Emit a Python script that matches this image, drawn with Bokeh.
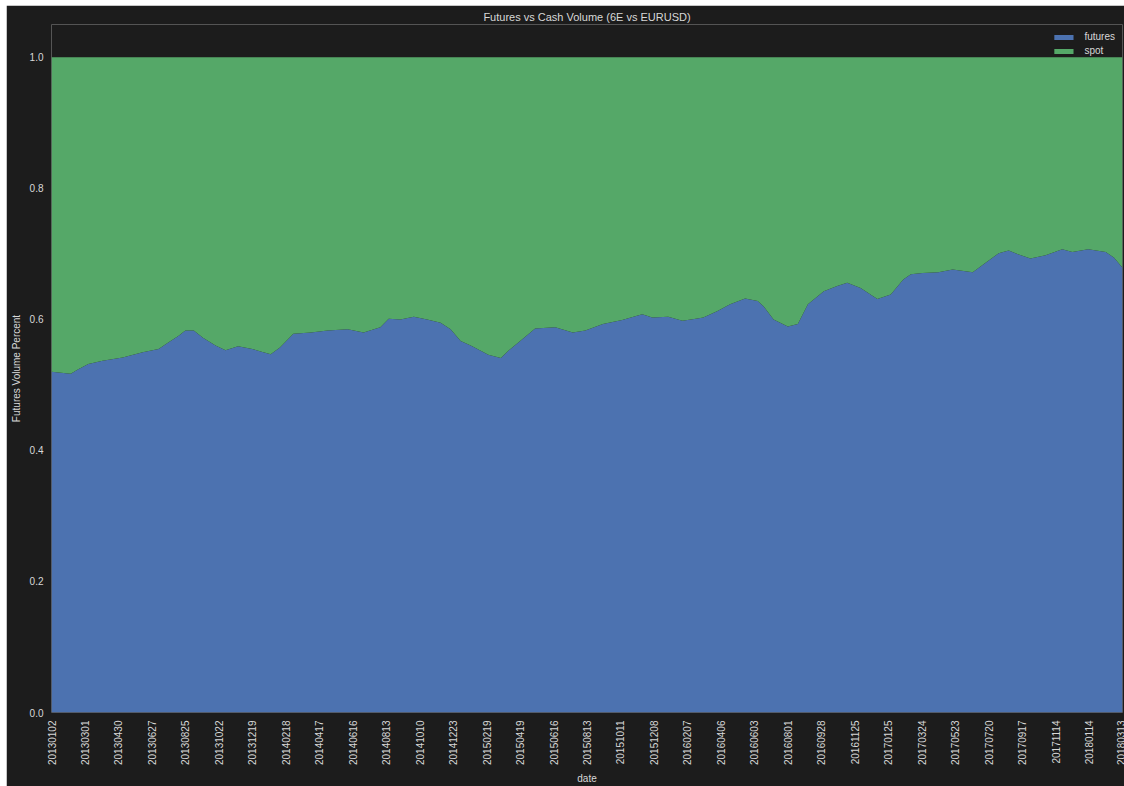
import math
from bokeh.plotting import figure
from bokeh.models import (ColumnDataSource, Range1d, FixedTicker, PrintfTickFormatter,
                          Legend, LegendItem, Spacer)
from bokeh.layouts import column, row
from bokeh.embed import file_html
from bokeh.resources import INLINE

# ---- data (row index of the daily series, futures share of volume) ----
row_index = [0, 23, 32, 44, 61, 85, 109, 128, 140, 152, 160, 170, 181, 196, 208, 223,
             240, 250, 262, 273, 289, 310, 330, 354, 373, 393, 403, 417, 433, 449, 465,
             477, 489, 501, 513, 522, 537, 546, 563, 578, 602, 623, 638, 659, 682, 706,
             718, 737, 754, 770, 779, 796, 811, 829, 844, 851, 863, 880, 892, 904, 923,
             939, 951, 967, 987, 1003, 1018, 1027, 1041, 1060, 1077, 1101, 1116, 1132,
             1144, 1156, 1170, 1188, 1208, 1220, 1239, 1260, 1270, 1280]
futures = [0.520, 0.517, 0.524, 0.532, 0.537, 0.542, 0.550, 0.555, 0.565, 0.575, 0.583,
           0.583, 0.572, 0.560, 0.553, 0.559, 0.555, 0.551, 0.547, 0.557, 0.578, 0.580,
           0.583, 0.585, 0.580, 0.588, 0.601, 0.600, 0.604, 0.600, 0.595, 0.585, 0.567,
           0.560, 0.552, 0.546, 0.541, 0.552, 0.570, 0.586, 0.588, 0.580, 0.583, 0.593,
           0.599, 0.608, 0.603, 0.604, 0.598, 0.601, 0.603, 0.613, 0.623, 0.632, 0.628,
           0.620, 0.600, 0.589, 0.593, 0.623, 0.643, 0.651, 0.656, 0.648, 0.631, 0.638,
           0.661, 0.669, 0.671, 0.672, 0.676, 0.672, 0.686, 0.701, 0.705, 0.699, 0.693,
           0.698, 0.707, 0.703, 0.707, 0.703, 0.694, 0.679]
spot = [round(1.0 - f, 3) for f in futures]

tick_labels = ["20130102", "20130301", "20130430", "20130627", "20130825", "20131022",
               "20131219", "20140218", "20140417", "20140616", "20140813", "20141010",
               "20141223", "20150219", "20150419", "20150616", "20150813", "20151011",
               "20151208", "20160207", "20160406", "20160603", "20160801", "20160928",
               "20161125", "20170125", "20170324", "20170523", "20170720", "20170917",
               "20171114", "20180114", "20180313"]
rows_per_tick = 40
series_names = ["futures", "spot"]
series_colors = ["#4c72b0", "#55a868"]

BG = "#1c1c1c"
TXT = "#d8d8d8"
FONT = "Liberation Sans"

# layout (pixels)
W, H = 1118, 781
B_LEFT, B_TOP, B_RIGHT, B_BOTTOM = 45, 19, 2, 71
LEGEND_BAND = 33          # room above the 1.0 line that holds the legend
frame_h = H - B_TOP - B_BOTTOM
y_top = frame_h / (frame_h - LEGEND_BAND)

source = ColumnDataSource(dict(x=row_index, futures=futures, spot=spot))

p = figure(width=W, height=H, output_backend="svg", toolbar_location=None,
           x_range=Range1d(0, rows_per_tick * (len(tick_labels) - 1)),
           y_range=Range1d(0, y_top),
           title="Futures vs Cash Volume (6E vs EURUSD)",
           min_border_left=B_LEFT, min_border_top=B_TOP,
           min_border_right=B_RIGHT, min_border_bottom=B_BOTTOM)

rends = p.varea_stack(stackers=series_names, x="x", source=source, color=series_colors)

p.background_fill_color = BG
p.border_fill_color = BG
p.outline_line_color = None
p.grid.visible = False

p.title.align = "center"
p.title.text_color = TXT
p.title.text_font = FONT
p.title.text_font_size = "11px"
p.title.text_font_style = "normal"
p.title.offset = 0
p.title.standoff = 3

tick_pos = [i * rows_per_tick for i in range(len(tick_labels))]
p.xaxis.ticker = FixedTicker(ticks=tick_pos)
p.xaxis.major_label_overrides = {t: lab for t, lab in zip(tick_pos, tick_labels)}
p.xaxis.major_label_orientation = math.pi / 2
p.xaxis.axis_label = "date"

p.yaxis.ticker = FixedTicker(ticks=[0.0, 0.2, 0.4, 0.6, 0.8, 1.0])
p.yaxis.formatter = PrintfTickFormatter(format="%.1f")
p.yaxis.axis_label = "Futures Volume Percent"

for ax in p.axis:
    ax.axis_line_color = None
    ax.major_tick_line_color = None
    ax.minor_tick_line_color = None
    ax.major_tick_out = 0
    ax.major_tick_in = 0
    ax.minor_tick_out = 0
    ax.minor_tick_in = 0
    ax.major_label_text_color = TXT
    ax.major_label_text_font = FONT
    ax.major_label_text_font_size = "10px"
    ax.axis_label_text_color = TXT
    ax.axis_label_text_font = FONT
    ax.axis_label_text_font_size = "10px"
    ax.axis_label_text_font_style = "normal"
    ax.major_label_standoff = 8
    ax.axis_label_standoff = 5

leg = Legend(items=[LegendItem(label=n, renderers=[r]) for n, r in zip(series_names, rends)],
             location="top_right", orientation="vertical")
leg.background_fill_alpha = 0
leg.border_line_color = None
leg.padding = 0
leg.margin = 7
leg.spacing = 3
leg.glyph_width = 24
leg.glyph_height = 6
leg.label_height = 10
leg.label_standoff = 9
leg.label_text_color = TXT
leg.label_text_font = FONT
leg.label_text_font_size = "10px"
p.add_layout(leg, "center")

layout = column(Spacer(height=5), row(Spacer(width=6), p))
open("out.html", "w").write(file_html(layout, INLINE))
